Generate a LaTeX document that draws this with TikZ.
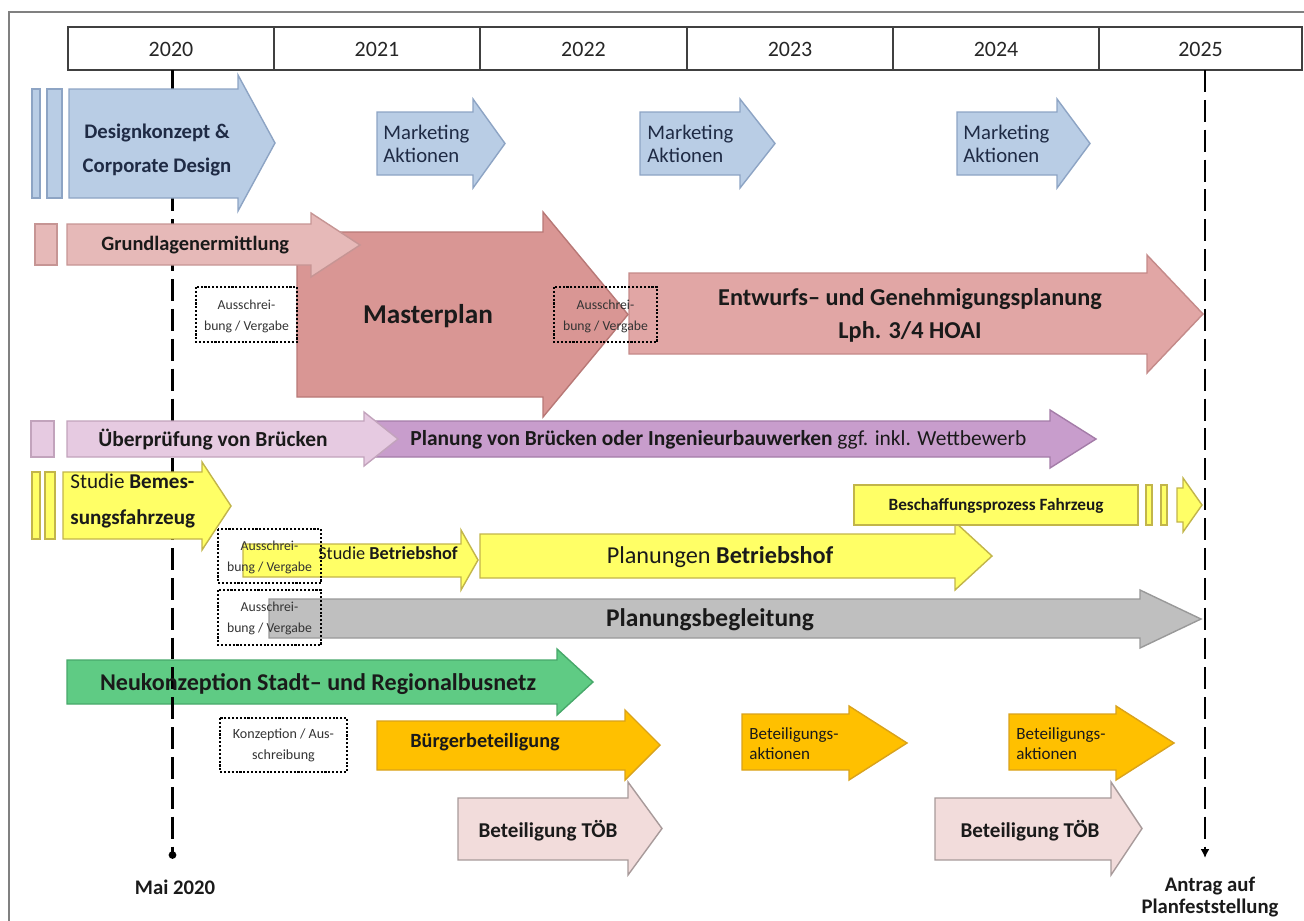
\documentclass[tikz,border=0pt]{standalone}
\usepackage{fontspec}
\setmainfont{Carlito}
\usetikzlibrary{arrows.meta}
\definecolor{cBlue}{HTML}{B9CDE5}
\definecolor{cBlueD}{HTML}{8DA4C4}
\definecolor{cNavy}{HTML}{1F2B45}
\definecolor{cRose}{HTML}{E6B9B8}
\definecolor{cRoseD}{HTML}{C69594}
\definecolor{cMaster}{HTML}{D99694}
\definecolor{cMasterD}{HTML}{B87876}
\definecolor{cEntw}{HTML}{E1A6A5}
\definecolor{cEntwD}{HTML}{C48A89}
\definecolor{cLilac}{HTML}{E6CAE1}
\definecolor{cLilacD}{HTML}{C2A3BC}
\definecolor{cPurple}{HTML}{C89DCC}
\definecolor{cPurpleD}{HTML}{A47CA8}
\definecolor{cYel}{HTML}{FFFF66}
\definecolor{cYelD}{HTML}{C2B54A}
\definecolor{cGrey}{HTML}{BFBFBF}
\definecolor{cGreyD}{HTML}{999999}
\definecolor{cGreen}{HTML}{5FCB84}
\definecolor{cGreenD}{HTML}{47A86A}
\definecolor{cOrange}{HTML}{FFC000}
\definecolor{cOrangeD}{HTML}{D9A21B}
\definecolor{cTob}{HTML}{F2DCDB}
\definecolor{cTobD}{HTML}{A89A9A}
\definecolor{cTxt}{HTML}{1A1A1A}
\definecolor{cHdr}{HTML}{404040}
\newcommand{\fsz}[2]{\fontsize{#1}{#2}\selectfont}
\newcommand{\barrow}[8]{\filldraw[#1] (#2,#5) -- (#3,#5) -- (#3,#7) -- (#4,{(#7+#8)/2}) -- (#3,#8) -- (#3,#6) -- (#2,#6) -- cycle;}
\begin{document}
\begin{tikzpicture}[x=0.02cm,y=-0.02cm,
  base/.style={line width=0.8pt, line join=miter},
  blue/.style={base, fill=cBlue, draw=cBlueD},
  rose/.style={base, fill=cRose, draw=cRoseD},
  master/.style={base, fill=cMaster, draw=cMasterD},
  entw/.style={base, fill=cEntw, draw=cEntwD},
  lilac/.style={base, fill=cLilac, draw=cLilacD},
  purple/.style={base, fill=cPurple, draw=cPurpleD},
  yel/.style={base, fill=cYel, draw=cYelD},
  grey/.style={base, fill=cGrey, draw=cGreyD},
  green/.style={base, fill=cGreen, draw=cGreenD},
  orange/.style={base, fill=cOrange, draw=cOrangeD},
  tob/.style={base, fill=cTob, draw=cTobD},
  txt/.style={inner sep=0pt, text=cTxt},
  small/.style={txt, align=center, text=black!80, font=\fsz{7.8pt}{12pt}},
  abox/.style={draw=black, densely dotted, line width=1.2pt},
  hdr/.style={draw=cHdr, line width=1.1pt},
  yr/.style={txt, text=black!85, font=\fsz{12.5pt}{14pt}},
  vline/.style={draw=black, line width=1.4pt, dash pattern=on 12.5pt off 4.5pt}
]
\useasboundingbox (0,0) rectangle (1304,920);
% frame
\draw[draw=black!50, line width=0.6pt] (9,925) -- (9,12) -- (1310,12);
% header
\draw[hdr] (68,27) rectangle (1302,70);
\foreach \x in {274,480,687,893,1099} \draw[hdr] (\x,27) -- (\x,70);
\node[yr] (y2020) at (171,49) {2020};
\node[yr] (y2021) at (377,49) {2021};
\node[yr] (y2022) at (583.5,49) {2022};
\node[yr] (y2023) at (790,49) {2023};
\node[yr] (y2024) at (996,49) {2024};
\node[yr] (y2025) at (1200.5,49) {2025};

% green row (below the dashed line)
\barrow{green}{67}{557}{593}{660}{704}{649}{715}

% dashed milestone lines
\coordinate (l1top) at (172.5,70);
\coordinate (l1bot) at (172.5,855);
\coordinate (l2top) at (1205,70);
\coordinate (l2bot) at (1205,858);
\draw[vline] (l1top) -- (l1bot);
\fill (l1bot) circle[radius=2.2pt];
\draw[vline, -{Latex[length=5pt,width=5pt]}] (l2top) -- (l2bot);

% row 1 blue
\filldraw[blue] (32,89) rectangle (40,198);
\filldraw[blue] (47,89) rectangle (62,198);
\barrow{blue}{69}{238}{275}{89}{198}{75}{211}
\barrow{blue}{377}{473}{505}{112}{175}{99}{188}
\barrow{blue}{640}{740}{775}{112}{175}{99}{188}
\barrow{blue}{957}{1057}{1090}{112}{175}{99}{188}

% row 2 rose
\filldraw[rose] (35,224) rectangle (57,265);
\barrow{entw}{629}{1147}{1203}{273}{354}{255}{373}
\barrow{master}{297}{543}{628}{232}{397}{212}{417}
\barrow{rose}{67}{311}{360}{224}{265}{213}{277}

% row 3 purple
\filldraw[lilac] (31,421) rectangle (54,457);
\barrow{purple}{366}{1050}{1096}{421}{457}{410}{468}
\barrow{lilac}{67}{364}{398}{421}{457}{412}{466}

% row 4 yellow
\filldraw[yel] (32,472) rectangle (40,539);
\filldraw[yel] (45,472) rectangle (55,539);
\barrow{yel}{63}{202}{231}{472}{539}{462}{550}
\barrow{yel}{243}{461}{478}{544}{577}{530}{590}
\barrow{yel}{480}{955}{992}{534}{578}{522}{590}
\filldraw[yel] (854,485) rectangle (1138,525);
\filldraw[yel] (1146,485) rectangle (1152,525);
\filldraw[yel] (1161,485) rectangle (1167,525);
\barrow{yel}{1177}{1183}{1202}{488}{522}{478}{532}

% row 5 grey
\barrow{grey}{269}{1140}{1201}{599}{638}{590}{648}

% row 7 orange
\barrow{orange}{377}{625}{660}{721}{770}{710}{780}
\barrow{orange}{742}{849}{907}{714}{770}{706}{780}
\barrow{orange}{1009}{1116}{1174}{714}{770}{706}{780}

% row 8 pink
\barrow{tob}{458}{628}{662}{798}{860}{782}{875}
\barrow{tob}{935}{1111}{1142}{798}{860}{782}{875}

% dotted boxes
\draw[abox] (196,287) rectangle (297,342);
\draw[abox] (554,287) rectangle (657,342);
\draw[abox] (218,529) rectangle (321,583);
\draw[abox] (218,590) rectangle (321,645);
\draw[abox] (220,718) rectangle (347,772);

% texts
\node[txt, align=center, text=cNavy, font=\bfseries\fsz{11.8pt}{19.3pt}] (dk) at (157,150) {Designkonzept \&\\Corporate Design};
\node[txt, anchor=west, align=left, text=cNavy, font=\fsz{11.8pt}{13.3pt}] (mk1) at (383,144) {Marketing\\Aktionen};
\node[txt, anchor=west, align=left, text=cNavy, font=\fsz{11.8pt}{13.3pt}] (mk2) at (647,144) {Marketing\\Aktionen};
\node[txt, anchor=west, align=left, text=cNavy, font=\fsz{11.8pt}{13.3pt}] (mk3) at (963,144) {Marketing\\Aktionen};

\node[txt, anchor=west, font=\bfseries\fsz{11.6pt}{14pt}] (gl) at (101,245) {Grundlagenermittlung};
\node[txt, font=\bfseries\fsz{15.5pt}{18pt}] (mp) at (428,316) {Masterplan};
\node[small] (as1) at (246.5,316) {Ausschrei-\\bung / Vergabe};
\node[small] (as2) at (605.5,316) {Ausschrei-\\bung / Vergabe};
\node[txt, align=center, font=\bfseries\fsz{13.8pt}{18.8pt}] (ew) at (910,315) {Entwurfs– und Genehmigungsplanung\\Lph. 3/4 HOAI};

\node[txt, anchor=west, font=\bfseries\fsz{12.2pt}{14pt}] (ub) at (98,440) {Überprüfung von Brücken};
\node[txt, anchor=west, font=\fsz{12.2pt}{14pt}] (pb) at (410,440) {\textbf{Planung von Brücken oder Ingenieurbauwerken} ggf. inkl. Wettbewerb};

\node[txt, anchor=west, align=left, font=\fsz{12pt}{20.5pt}] (sb) at (70,501) {Studie \textbf{Bemes-}\\\textbf{sungsfahrzeug}};
\node[small] (as3) at (269.5,557) {Ausschrei-\\bung / Vergabe};
\node[txt, anchor=west, font=\fsz{10.4pt}{12pt}] (sbh) at (318,553) {Studie \textbf{Betriebshof}};
\node[txt, font=\fsz{13.8pt}{16pt}] (plb) at (720,557) {Planungen \textbf{Betriebshof}};
\node[txt, font=\bfseries\fsz{9.8pt}{12pt}] (bf) at (996,506) {Beschaffungsprozess Fahrzeug};

\node[small] (as4) at (269.5,618) {Ausschrei-\\bung / Vergabe};
\node[txt, font=\bfseries\fsz{14.5pt}{16pt}] (pbg) at (710,620) {Planungsbegleitung};

\node[txt, font=\bfseries\fsz{13.7pt}{16pt}] (nk) at (318,684) {Neukonzeption Stadt– und Regionalbusnetz};

\node[small, font=\fsz{8pt}{12pt}] (kz) at (283.5,745) {Konzeption / Aus-\\schreibung};
\node[txt, font=\bfseries\fsz{11.5pt}{14pt}] (bb) at (485,742) {Bürgerbeteiligung};
\node[txt, anchor=west, align=left, font=\fsz{9.7pt}{11.5pt}] (ba1) at (749,744) {Beteiligungs-\\aktionen};
\node[txt, anchor=west, align=left, font=\fsz{9.7pt}{11.5pt}] (ba2) at (1016,744) {Beteiligungs-\\aktionen};

\node[txt, font=\bfseries\fsz{12pt}{14pt}] (tob1) at (548,831) {Beteiligung TÖB};
\node[txt, font=\bfseries\fsz{12pt}{14pt}] (tob2) at (1030,831) {Beteiligung TÖB};

\node[txt, font=\bfseries\fsz{11.8pt}{14pt}] (mai) at (175,887) {Mai 2020};
\node[txt, align=center, font=\bfseries\fsz{11.8pt}{12.2pt}] (ant) at (1210,897) {Antrag auf\\Planfeststellung};
\end{tikzpicture}
\end{document}
